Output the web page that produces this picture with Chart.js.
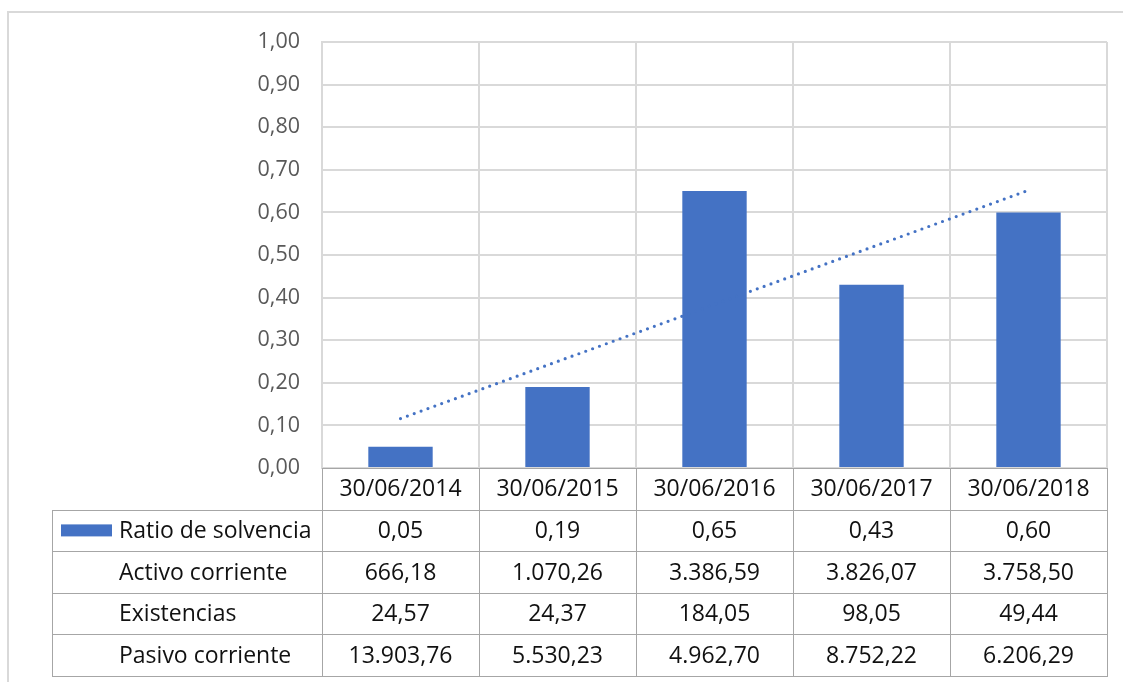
<!DOCTYPE html>
<html>
<head>
<meta charset="utf-8">
<title>Ratio de solvencia</title>
<script src="https://cdn.jsdelivr.net/npm/chart.js@4.4.1/dist/chart.umd.min.js"></script>
<style>
  html, body { margin: 0; padding: 0; background: #ffffff; }
  #wrap { position: relative; width: 1123px; height: 682px; }
</style>
</head>
<body>
<div id="wrap"><canvas id="chart"></canvas></div>
<script>
// Fechas de cierre y magnitudes del balance
const categories = ['30/06/2014', '30/06/2015', '30/06/2016', '30/06/2017', '30/06/2018'];
const ratioSolvencia = [0.05, 0.19, 0.65, 0.43, 0.60];
const activoCorriente = [666.18, 1070.26, 3386.59, 3826.07, 3758.50];
const existencias = [24.57, 24.37, 184.05, 98.05, 49.44];
const pasivoCorriente = [13903.76, 5530.23, 4962.70, 8752.22, 6206.29];

// Eje Y: 0,00 a 1,00 en pasos de 0,10
const yMin = 0;
const yMax = 1;
const yStep = 0.1;

const BLUE = '#4472C4';
const FONT = '"Open Sans", "Noto Sans", sans-serif';
const TEXT = '#111111';

// Formato español: punto de miles, coma decimal
function fmt(v) {
  const parts = v.toFixed(2).split('.');
  return parts[0].replace(/\B(?=(\d{3})+(?!\d))/g, '.') + ',' + parts[1];
}

// Línea de tendencia lineal (mínimos cuadrados) sobre el ratio
const n = ratioSolvencia.length;
const meanX = (n - 1) / 2;
const meanY = ratioSolvencia.reduce((a, b) => a + b, 0) / n;
let sxy = 0, sxx = 0;
ratioSolvencia.forEach((y, i) => { sxy += (i - meanX) * (y - meanY); sxx += (i - meanX) * (i - meanX); });
const slope = sxy / sxx;
const tendencia = ratioSolvencia.map((_, i) => meanY + slope * (i - meanX));

const tableRows = [
  { label: 'Ratio de solvencia', values: ratioSolvencia, key: true },
  { label: 'Activo corriente', values: activoCorriente },
  { label: 'Existencias', values: existencias },
  { label: 'Pasivo corriente', values: pasivoCorriente }
];

// Fondo y marco exterior del gráfico
const framePlugin = {
  id: 'frame',
  beforeDraw(chart) {
    const ctx = chart.ctx;
    ctx.save();
    ctx.fillStyle = '#ffffff';
    ctx.fillRect(0, 0, chart.width, chart.height);
    ctx.strokeStyle = '#d9d9d9';
    ctx.lineWidth = 2;
    ctx.beginPath();
    ctx.moveTo(8, chart.height + 2);
    ctx.lineTo(8, 12);
    ctx.lineTo(chart.width + 2, 12);
    ctx.stroke();
    ctx.restore();
  }
};

// Tabla de datos bajo el eje de categorías
const dataTablePlugin = {
  id: 'dataTable',
  afterDraw(chart) {
    const ctx = chart.ctx;
    const area = chart.chartArea;
    const xs = chart.scales.x;
    const cols = categories.length;
    const colW = (area.right - area.left) / cols;
    const rowH = 41.6;
    const top = area.bottom;
    const tableLeft = 52;
    const bottom = top + rowH * (tableRows.length + 1);

    ctx.save();
    ctx.strokeStyle = '#a6a6a6';
    ctx.lineWidth = 1;
    ctx.beginPath();
    for (let i = 0; i <= cols; i++) {
      const x = Math.round(area.left + i * colW) + 0.5;
      ctx.moveTo(x, top);
      ctx.lineTo(x, bottom);
    }
    const lx = tableLeft + 0.5;
    ctx.moveTo(lx, Math.round(top + rowH) + 0.5);
    ctx.lineTo(lx, Math.round(bottom) + 0.5);
    for (let r = 1; r <= tableRows.length + 1; r++) {
      const y = Math.round(top + r * rowH) + 0.5;
      ctx.moveTo(tableLeft, y);
      ctx.lineTo(Math.round(area.right) + 1, y);
    }
    ctx.stroke();

    ctx.fillStyle = TEXT;
    ctx.font = '23px ' + FONT;
    ctx.textBaseline = 'middle';
    ctx.textAlign = 'center';
    categories.forEach((c, i) => {
      ctx.fillText(c, xs.getPixelForValue(i), top + rowH / 2 + 1);
    });

    tableRows.forEach((row, r) => {
      const cy = top + rowH * (r + 1) + rowH / 2 + 1;
      ctx.textAlign = 'left';
      ctx.fillStyle = TEXT;
      ctx.fillText(row.label, 119, cy);
      if (row.key) {
        ctx.fillStyle = BLUE;
        ctx.fillRect(61, cy - 7, 51, 12);
        ctx.fillStyle = TEXT;
      }
      ctx.textAlign = 'center';
      row.values.forEach((v, i) => {
        ctx.fillText(fmt(v), xs.getPixelForValue(i), cy);
      });
    });
    ctx.restore();
  }
};

new Chart(document.getElementById('chart'), {
  data: {
    labels: categories,
    datasets: [
      {
        type: 'bar',
        label: 'Ratio de solvencia',
        data: ratioSolvencia,
        backgroundColor: BLUE,
        borderWidth: 0,
        barPercentage: 0.41,
        categoryPercentage: 1,
        order: 2
      },
      {
        type: 'line',
        label: 'Lineal (Ratio de solvencia)',
        data: tendencia,
        borderColor: BLUE,
        borderWidth: 3.2,
        borderDash: [0, 7.3],
        borderCapStyle: 'round',
        pointRadius: 0,
        fill: false,
        tension: 0,
        order: 1
      }
    ]
  },
  options: {
    responsive: true,
    maintainAspectRatio: false,
    animation: false,
    events: [],
    layout: { padding: { left: 0, top: 42, right: 16, bottom: 214 } },
    plugins: {
      legend: { display: false },
      tooltip: { enabled: false },
      title: { display: false }
    },
    scales: {
      x: {
        offset: true,
        grid: { offset: true, color: '#d9d9d9', lineWidth: 2, drawTicks: false },
        border: { display: true, color: '#a6a6a6', width: 1 },
        ticks: { display: false },
        afterFit(scale) { scale.height = 0; }
      },
      y: {
        min: yMin,
        max: yMax,
        grid: { color: '#d9d9d9', lineWidth: 2, drawTicks: false },
        border: { display: true, color: '#d9d9d9', width: 2 },
        ticks: {
          stepSize: yStep,
          padding: 22,
          color: '#595959',
          font: { family: FONT, size: 21.5 },
          callback: (v) => fmt(v)
        },
        afterFit(scale) { scale.width = 322; }
      }
    }
  },
  plugins: [framePlugin, dataTablePlugin]
});
</script>
</body>
</html>
